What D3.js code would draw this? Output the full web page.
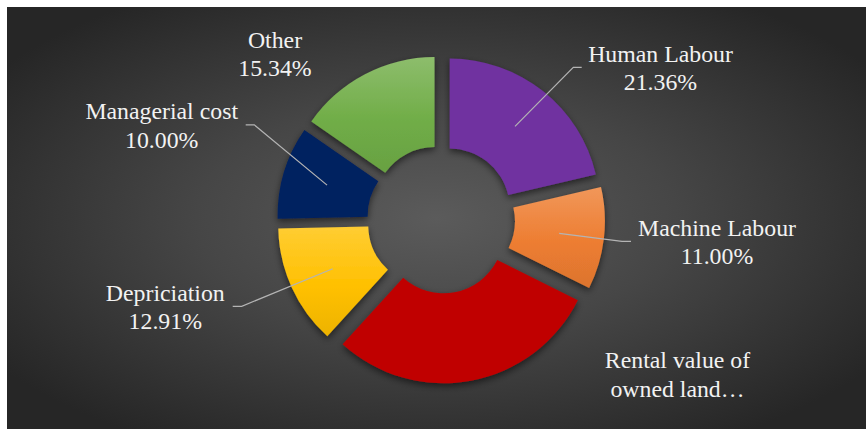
<!DOCTYPE html>
<html>
<head>
<meta charset="utf-8">
<script src="https://cdn.jsdelivr.net/npm/d3@7"></script>
<style>
  body { margin: 0; background: #fff; }
  svg { display: block; }
  .lbl { font-family: "Liberation Serif", "Times New Roman", Tinos, "DejaVu Serif", serif; }
</style>
</head>
<body>
<div id="chart"></div>
<script>
// Chart data
const categories = ["Human Labour", "Machine Labour", "Rental value of owned land", "Depriciation", "Managerial cost", "Other"];
const shares = [21.36, 11.00, 29.39, 12.91, 10.00, 15.34];
// label text as it appears (rental label is cut off in the original)
const labelNames = [["Human Labour"], ["Machine Labour"], ["Rental value of", "owned land…"], ["Depriciation"], ["Managerial cost"], ["Other"]];
const showPercent = [true, true, false, true, true, true];
const baseColors = ["#7030a0", "#ed7d31", "#c00000", "#ffc000", "#002060", "#70ad47"];

const width = 866, height = 429;
const cx = 441, cy = 219.5;
const outerR = 150, innerR = 60, explode = 14;
const fontSize = 23.8, lineH = 28.3;

// label placement (layout only): centre x, first baseline y, leader side
const labelLayout = {
  "Human Labour": { x: 660.5, y: 61.7, side: "left", edgeX: 581.7, elbowX: 573.3 },
  "Machine Labour": { x: 717, y: 235.7, side: "left", edgeX: 631, elbowX: 622 },
  "Rental value of owned land": { x: 677.5, y: 368.3 },
  "Depriciation": { x: 165.3, y: 300.7, side: "right", edgeX: 232.7, elbowX: 241.7 },
  "Managerial cost": { x: 161.7, y: 119.3, side: "right", edgeX: 245.7, elbowX: 254.3 },
  "Other": { x: 275, y: 47.7 }
};

const data = categories.map((c, i) => ({
  category: c,
  share: shares[i],
  lines: labelNames[i],
  pct: showPercent[i],
  color: baseColors[i]
}));

const svg = d3.select("#chart")
  .append("svg")
    .attr("width", width)
    .attr("height", height)
    .attr("viewBox", `0 0 ${width} ${height}`);

const defs = svg.append("defs");

// panel background
const bg = defs.append("radialGradient")
    .attr("id", "bg")
    .attr("cx", "50%").attr("cy", "50%").attr("r", "62%");
bg.append("stop").attr("offset", "0%").attr("stop-color", "#5b5b5b");
bg.append("stop").attr("offset", "45%").attr("stop-color", "#464646");
bg.append("stop").attr("offset", "100%").attr("stop-color", "#262626");

const shadow = defs.append("filter")
    .attr("id", "shadow")
    .attr("x", "-20%").attr("y", "-20%").attr("width", "140%").attr("height", "140%");
shadow.append("feDropShadow")
    .attr("dx", 0).attr("dy", 3)
    .attr("stdDeviation", 3.5)
    .attr("flood-color", "#000")
    .attr("flood-opacity", 0.55);

// slice gradients: lighter at the top, darker at the bottom
data.forEach((d, i) => {
  const base = d3.color(d.color);
  const flat = d.color === "#7030a0" || d.color === "#c00000" || d.color === "#002060";
  const g = defs.append("linearGradient")
      .attr("id", `grad${i}`)
      .attr("x1", 0).attr("y1", 0).attr("x2", 0).attr("y2", 1);
  g.append("stop").attr("offset", "0%")
    .attr("stop-color", flat ? base : d3.interpolateRgb(base, "#fff")(0.2));
  g.append("stop").attr("offset", "55%").attr("stop-color", base);
  g.append("stop").attr("offset", "100%")
    .attr("stop-color", flat ? base : d3.interpolateRgb(base, "#000")(0.07));
});

svg.append("rect")
    .attr("x", 7).attr("y", 7)
    .attr("width", width - 7).attr("height", height - 7)
    .attr("fill", "url(#bg)");

const pie = d3.pie()
    .sort(null)
    .value(d => d.share);

const arc = d3.arc()
    .innerRadius(innerR)
    .outerRadius(outerR);

const arcs = pie(data);

const offset = a => {
  const mid = (a.startAngle + a.endAngle) / 2;
  return [Math.sin(mid) * explode, -Math.cos(mid) * explode];
};

const slices = svg.append("g")
    .attr("transform", `translate(${cx},${cy})`)
  .selectAll("g")
  .data(arcs)
  .join("g")
    .attr("transform", d => `translate(${offset(d)})`);

slices.append("path")
    .attr("d", arc)
    .attr("fill", (d, i) => `url(#grad${i})`)
    .attr("filter", "url(#shadow)");

// leader lines
const leaders = svg.append("g")
    .attr("fill", "none")
    .attr("stroke", "#b4b4b4")
    .attr("stroke-width", 1.2);

arcs.forEach(a => {
  const lay = labelLayout[a.data.category];
  if (!lay.side) return;
  const [ox, oy] = offset(a);
  const [px, py] = arc.centroid(a);
  const sx = cx + ox + px, sy = cy + oy + py;
  const ly = lay.y + 5.6;
  leaders.append("polyline")
      .attr("points", [[sx, sy], [lay.elbowX, ly], [lay.edgeX, ly]].map(p => p.join(",")).join(" "));
});

// labels
const fmt = d3.format(".2f");
const labels = svg.append("g")
    .attr("class", "lbl")
    .attr("font-size", fontSize)
    .attr("fill", "#f2f2f2")
    .attr("text-anchor", "middle");

data.forEach(d => {
  const lay = labelLayout[d.category];
  const lines = d.pct ? d.lines.concat(fmt(d.share) + "%") : d.lines;
  const t = labels.append("text")
      .attr("x", lay.x)
      .attr("y", lay.y);
  lines.forEach((s, j) => {
    t.append("tspan")
        .attr("x", lay.x)
        .attr("y", lay.y + j * lineH)
        .text(s);
  });
});
</script>
</body>
</html>
